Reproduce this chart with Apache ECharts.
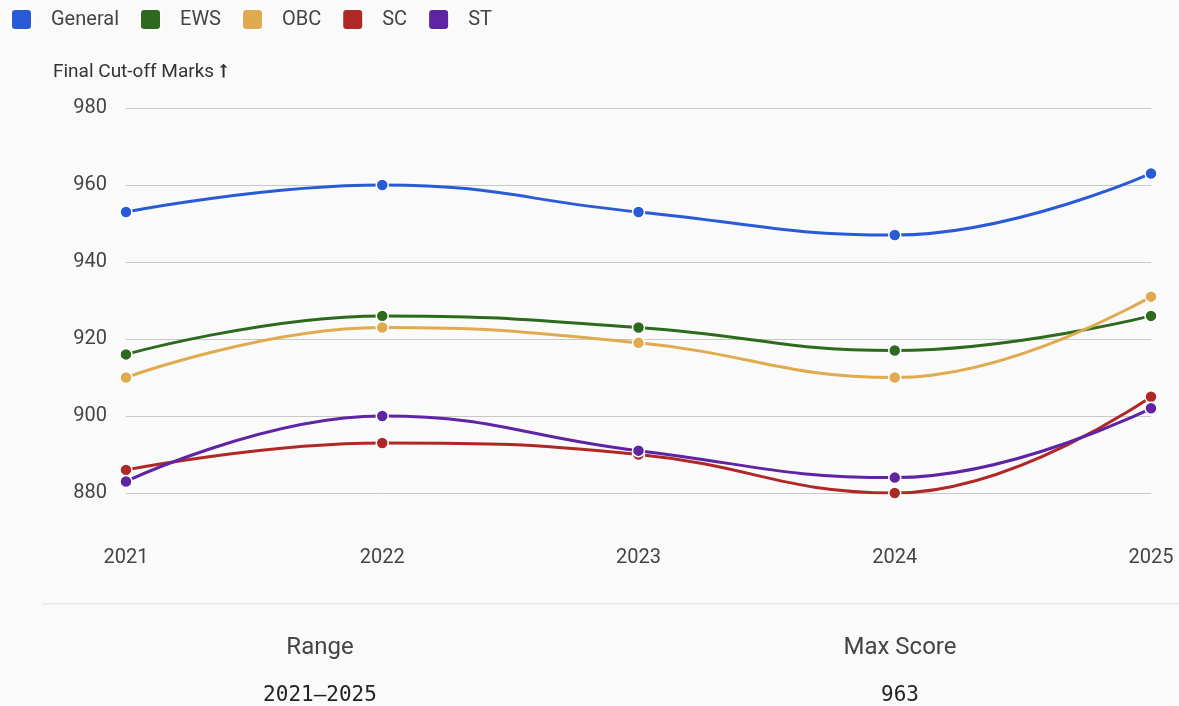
<!DOCTYPE html>
<html>
<head>
<meta charset="utf-8">
<script src="https://cdn.jsdelivr.net/npm/echarts@6/dist/echarts.min.js"></script>
<style>
  html, body { margin: 0; padding: 0; background: #fafafa; }
  #chart { width: 1179px; height: 706px; }
</style>
</head>
<body>
<div id="chart"></div>
<script>
// data
const years = ['2021', '2022', '2023', '2024', '2025'];
const general = [953, 960, 953, 947, 963];
const ews = [916, 926, 923, 917, 926];
const obc = [910, 923, 919, 910, 931];
const sc = [886, 893, 890, 880, 905];
const st = [883, 900, 891, 884, 902];

const colors = ['#2a5bd6', '#2d6a1e', '#e0aa4e', '#b02826', '#5e24a4'];
const font = 'Roboto, "Noto Sans", sans-serif';
const mono = '"DejaVu Sans Mono", "Liberation Mono", monospace';

const maxScore = Math.max(...general, ...ews, ...obc, ...sc, ...st);

function line(name, data) {
  return {
    name: name,
    type: 'line',
    data: data,
    smooth: 0.45,
    symbol: 'circle',
    symbolSize: 12,
    lineStyle: { width: 3 },
    itemStyle: { borderColor: '#fff', borderWidth: 1.5 }
  };
}

var myChart = echarts.init(document.getElementById('chart'));
myChart.setOption({
  backgroundColor: '#fafafa',
  color: colors,
  textStyle: { fontFamily: font },
  legend: {
    left: 10,
    top: 8,
    padding: 0,
    itemWidth: 21,
    itemHeight: 21,
    itemGap: 20,
    icon: 'path://M4,0 L16,0 Q20,0 20,4 L20,16 Q20,20 16,20 L4,20 Q0,20 0,16 L0,4 Q0,0 4,0 Z',
    textStyle: { fontSize: 20, color: '#444', padding: [2, 0, 0, 14], fontFamily: font }
  },
  title: {
    text: 'Final Cut-off Marks ⭡',
    left: 53,
    top: 63,
    padding: 0,
    textStyle: { fontSize: 19, fontWeight: 'normal', color: '#333', fontFamily: font }
  },
  grid: { left: 126, right: 28, top: 108, bottom: 213 },
  xAxis: {
    type: 'category',
    data: years,
    boundaryGap: false,
    axisLine: { show: false },
    axisTick: { show: false },
    axisLabel: { margin: 55, fontSize: 20, color: '#444', fontFamily: font }
  },
  yAxis: {
    type: 'value',
    min: 880,
    max: 980,
    interval: 20,
    axisLabel: { margin: 19, fontSize: 20, color: '#444', fontFamily: font },
    splitLine: { lineStyle: { color: '#c8c8c8', width: 1 } }
  },
  series: [
    line('General', general),
    line('EWS', ews),
    line('OBC', obc),
    line('SC', sc),
    line('ST', st)
  ],
  graphic: [
    { type: 'rect', shape: { x: 43, y: 603, width: 1136, height: 1.5 }, style: { fill: '#e6e6e6' } },
    { type: 'text', x: 320, y: 648, style: { text: 'Range', fontSize: 24, fill: '#444', fontFamily: font, textAlign: 'center', textVerticalAlign: 'middle' } },
    { type: 'text', x: 320, y: 696, style: { text: years[0] + '–' + years[years.length - 1], fontSize: 21, fill: '#222', fontFamily: mono, textAlign: 'center', textVerticalAlign: 'middle' } },
    { type: 'text', x: 900, y: 648, style: { text: 'Max Score', fontSize: 24, fill: '#444', fontFamily: font, textAlign: 'center', textVerticalAlign: 'middle' } },
    { type: 'text', x: 900, y: 696, style: { text: String(maxScore), fontSize: 21, fill: '#222', fontFamily: mono, textAlign: 'center', textVerticalAlign: 'middle' } }
  ]
});
</script>
</body>
</html>
